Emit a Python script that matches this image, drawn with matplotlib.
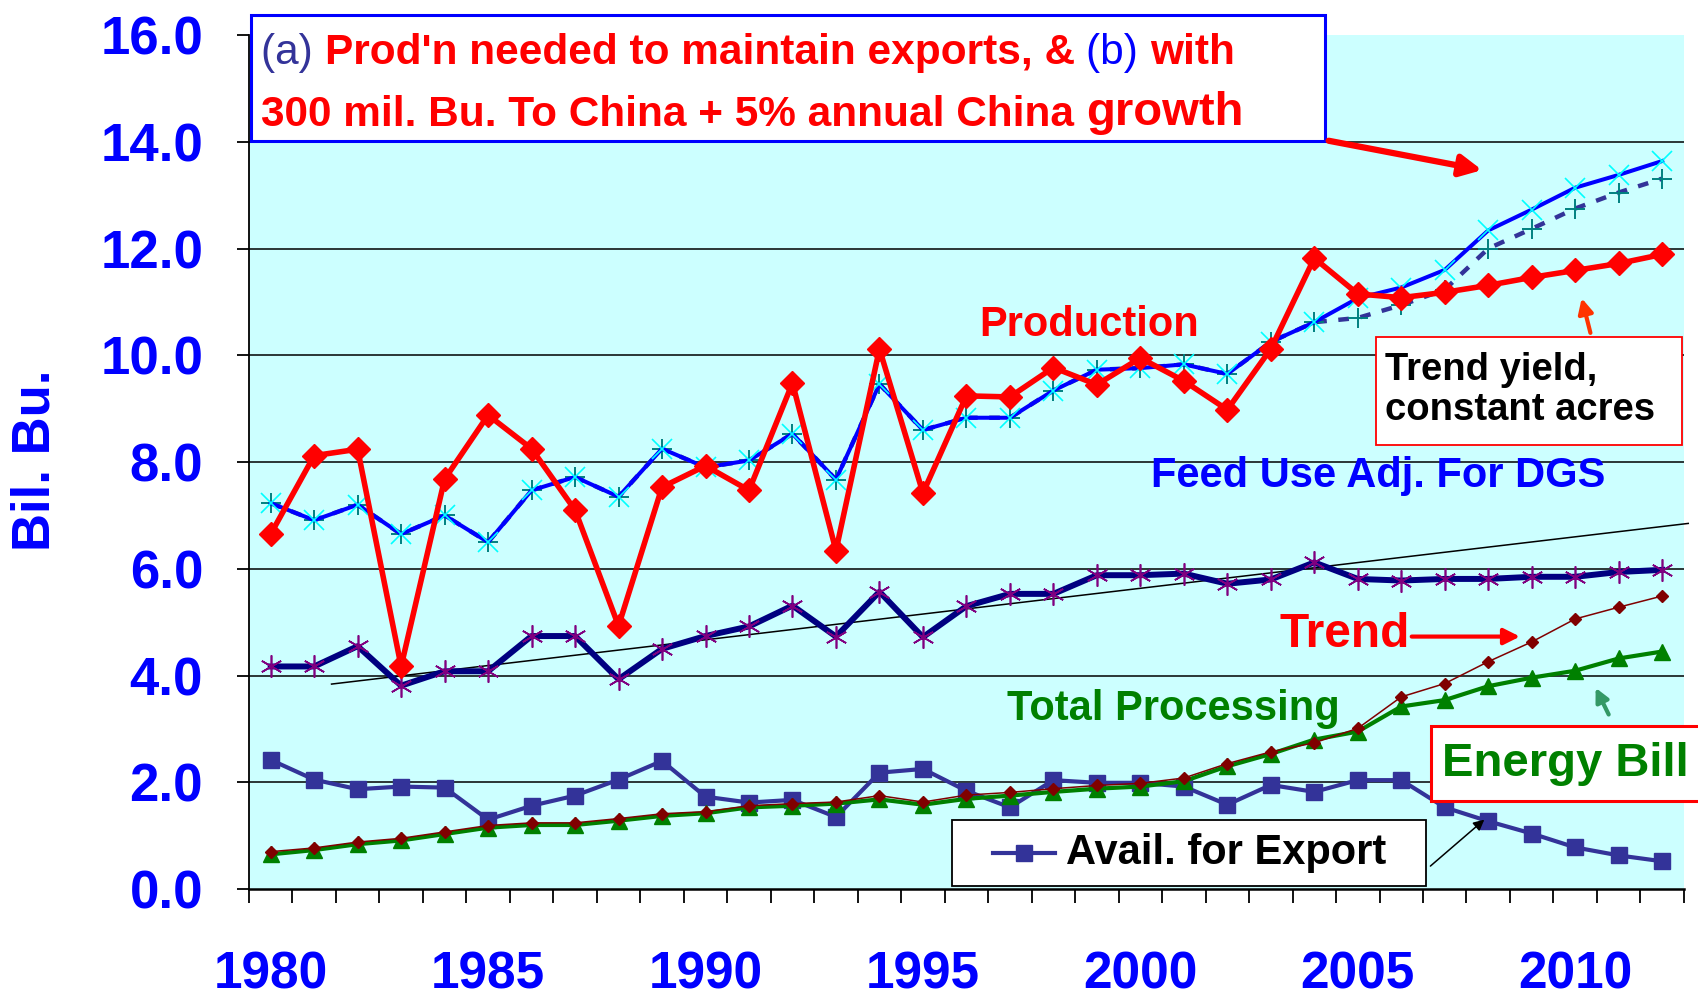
import numpy as np
import matplotlib
matplotlib.use("Agg")
import matplotlib.pyplot as plt
from matplotlib.patches import Rectangle

plt.rcParams["font.family"] = ["Liberation Sans", "DejaVu Sans"]
plt.rcParams["font.weight"] = "bold"

# ── data (bil. bu.) ───────────────────────────────────────────────────────────
years = np.arange(1980, 2013)

production = [6.65, 8.12, 8.24, 4.17, 7.68, 8.88, 8.25, 7.10, 4.93, 7.53,
              7.93, 7.47, 9.48, 6.34, 10.12, 7.42, 9.24, 9.22, 9.77, 9.45,
              9.95, 9.52, 8.98, 10.12, 11.82, 11.15, 11.08, 11.18, 11.31, 11.46,
              11.59, 11.72, 11.89]

# (b) production needed incl. 300 mil. bu. to China + 5% growth
need_china = [7.23, 6.91, 7.20, 6.65, 7.00, 6.50, 7.47, 7.72, 7.35, 8.25,
              7.90, 8.03, 8.53, 7.67, 9.46, 8.60, 8.83, 8.83, 9.34, 9.73,
              9.76, 9.83, 9.65, 10.25, 10.62, 11.07, 11.27, 11.60, 12.34, 12.73,
              13.14, 13.38, 13.64]

# (a) production needed to maintain exports
need_exports = [7.23, 6.91, 7.20, 6.65, 7.00, 6.50, 7.47, 7.72, 7.35, 8.25,
                7.90, 8.03, 8.53, 7.67, 9.46, 8.60, 8.83, 8.83, 9.34, 9.73,
                9.76, 9.83, 9.65, 10.25, 10.62, 10.70, 10.94, 11.23, 12.00, 12.37,
                12.75, 13.05, 13.31]

feed_use = [4.17, 4.17, 4.55, 3.81, 4.08, 4.08, 4.74, 4.74, 3.93, 4.50,
            4.74, 4.92, 5.31, 4.73, 5.57, 4.72, 5.30, 5.53, 5.53, 5.88,
            5.88, 5.91, 5.72, 5.80, 6.12, 5.81, 5.78, 5.81, 5.81, 5.85,
            5.85, 5.94, 5.98]

feed_trend_x = [1981.4, 2012.6]
feed_trend_y = [3.84, 6.85]

avail_export = [2.42, 2.05, 1.87, 1.92, 1.90, 1.30, 1.56, 1.75, 2.05, 2.40,
                1.73, 1.62, 1.67, 1.35, 2.18, 2.25, 1.84, 1.53, 2.04, 1.99,
                1.99, 1.92, 1.58, 1.95, 1.82, 2.04, 2.04, 1.53, 1.27, 1.04,
                0.78, 0.63, 0.52]

total_proc = [0.65, 0.73, 0.84, 0.91, 1.03, 1.15, 1.20, 1.20, 1.28, 1.37,
              1.42, 1.53, 1.56, 1.60, 1.68, 1.58, 1.69, 1.75, 1.82, 1.88,
              1.92, 2.02, 2.30, 2.53, 2.80, 2.95, 3.42, 3.54, 3.80, 3.96,
              4.09, 4.32, 4.45]

proc_trend = [0.70, 0.77, 0.88, 0.95, 1.07, 1.19, 1.24, 1.24, 1.32, 1.41,
              1.45, 1.56, 1.60, 1.63, 1.75, 1.63, 1.76, 1.81, 1.88, 1.94,
              1.98, 2.08, 2.35, 2.57, 2.74, 3.01, 3.60, 3.85, 4.26, 4.63,
              5.06, 5.28, 5.49]

year_labels = [1980, 1985, 1990, 1995, 2000, 2005, 2010]
y_ticks = [0, 2, 4, 6, 8, 10, 12, 14, 16]

BLUE = "#0000FF"
RED = "#FF0000"
NAVY = "#000080"
SLATE = "#333399"
GREEN = "#008000"

# ── figure ────────────────────────────────────────────────────────────────────
fig = plt.figure(figsize=(16.98, 9.96), dpi=100)
ax = fig.add_axes([0.1466, 0.1074, 0.8451, 0.8574])
ax.set_facecolor("#CCFFFF")
ax.set_xlim(1979.5, 2012.5)
ax.set_ylim(0, 16)

for v in y_ticks[1:-1]:
    ax.axhline(v, color="black", lw=1.1, zorder=1)

ax.plot(feed_trend_x, feed_trend_y, color="black", lw=1.1, zorder=2, clip_on=False)

ax.plot(years, feed_use, color=NAVY, lw=4.3, marker=(6, 2, 0), ms=16,
        mec="#800080", mew=1.2, zorder=3)
ax.plot(years, avail_export, color=SLATE, lw=3.0, marker="s", ms=12,
        mfc=SLATE, mec=SLATE, zorder=3)
ax.plot(years, total_proc, color=GREEN, lw=3.0, marker="^", ms=12,
        mfc=GREEN, mec=GREEN, zorder=4)
ax.plot(years, proc_trend, color="#800000", lw=1.1, marker="D", ms=6.5,
        mfc="#800000", mec="#800000", zorder=5)
ax.plot(years, need_exports, color=SLATE, lw=3.2, ls=(0, (2.4, 2.6)),
        marker="+", ms=15, mec="#008080", mew=1.4, zorder=5)
ax.plot(years, need_china, color=BLUE, lw=2.9, marker="x", ms=14,
        mec="#00FFFF", mew=1.2, zorder=6)
ax.plot(years, production, color=RED, lw=4.0, marker="D", ms=12.5,
        mfc=RED, mec=RED, zorder=7)

# ── axes styling ──────────────────────────────────────────────────────────────
for s in ("top", "right"):
    ax.spines[s].set_visible(False)
ax.spines["left"].set_linewidth(1.3)
ax.spines["bottom"].set_linewidth(1.8)

ax.set_yticks(y_ticks)
ax.set_yticklabels([f"{v:.1f}" for v in y_ticks])
ax.tick_params(axis="y", length=9, width=1.3, pad=24, labelsize=38,
               labelcolor=BLUE)
ax.set_xticks(year_labels)
ax.set_xticklabels([str(y) for y in year_labels])
ax.set_xticks(np.arange(1979.5, 2013, 1), minor=True)
ax.tick_params(axis="x", which="major", length=0, pad=44, labelsize=37,
               labelcolor=BLUE)
ax.tick_params(axis="x", which="minor", length=10, width=1.3)

fig.text(0.021, 0.538, "Bil. Bu.", rotation=90, ha="center", va="center",
         fontsize=38, color=BLUE)

# ── annotations ──────────────────────────────────────────────────────────────
ax.text(1998.83, 10.57, "Production", color=RED, fontsize=30,
        ha="center", va="center", zorder=8)
ax.text(2005.47, 7.73, "Feed Use Adj. For DGS", color=BLUE, fontsize=30,
        ha="center", va="center", zorder=8)
ax.text(2004.70, 4.77, "Trend", color=RED, fontsize=34.5,
        ha="center", va="center", zorder=8)
ax.text(2000.77, 3.37, "Total Processing", color=GREEN, fontsize=30,
        ha="center", va="center", zorder=8)

# top title box with multi-coloured text
ax.add_patch(Rectangle((1979.55, 14.02), 24.7, 2.35, fc="white", ec=BLUE,
                       lw=2.2, clip_on=False, zorder=9))


def colour_line(x, y, pieces):
    s, c, size, w = pieces[0]
    t = ax.text(x, y, s, color=c, fontsize=size, fontweight=w,
                va="bottom", ha="left", zorder=10)
    for s, c, size, w in pieces[1:]:
        t = ax.annotate(s, xy=(1, 0), xycoords=t, va="bottom", ha="left",
                        color=c, fontsize=size, fontweight=w, zorder=10)


colour_line(1979.78, 15.28, [
    ("(a) ", SLATE, 30.5, "normal"),
    ("Prod'n needed to maintain exports, & ", RED, 30.5, "bold"),
    ("(b) ", BLUE, 30.5, "normal"),
    ("with", RED, 30.5, "bold"),
])
colour_line(1979.78, 14.12, [
    ("300 mil. Bu. To China + 5% annual China ", RED, 30.5, "bold"),
    ("growth", RED, 34, "bold"),
])

ax.annotate("", xy=(2007.86, 13.47), xytext=(2004.33, 14.02),
            arrowprops=dict(arrowstyle="-|>", color=RED, lw=4.5,
                            mutation_scale=32, shrinkA=0, shrinkB=0),
            zorder=9, annotation_clip=False)

# trend yield box
ax.add_patch(Rectangle((2005.42, 8.32), 7.04, 2.02, fc="white", ec=RED,
                       lw=1.3, clip_on=False, zorder=9))
ax.text(2005.62, 9.35, "Trend yield,\nconstant acres", color="black",
        fontsize=27.5, ha="left", va="center", linespacing=1.15, zorder=10)
ax.annotate("", xy=(2010.15, 11.07), xytext=(2010.35, 10.42),
            arrowprops=dict(arrowstyle="-|>", color="#FF3300", lw=3,
                            mutation_scale=22, shrinkA=0, shrinkB=0),
            zorder=9)

ax.annotate("", xy=(2008.73, 4.73), xytext=(2006.24, 4.73),
            arrowprops=dict(arrowstyle="-|>", color=RED, lw=3,
                            mutation_scale=24, shrinkA=0, shrinkB=0),
            zorder=9)

# energy bill box
ax.add_patch(Rectangle((2006.69, 1.64), 6.6, 1.42, fc="white", ec=RED,
                       lw=2.2, clip_on=False, zorder=9))
ax.text(2006.94, 2.35, "Energy Bill", color=GREEN, fontsize=34,
        ha="left", va="center", zorder=10, clip_on=False)
ax.annotate("", xy=(2010.47, 3.77), xytext=(2010.77, 3.27),
            arrowprops=dict(arrowstyle="-|>", color="#339966", lw=3,
                            mutation_scale=20, shrinkA=0, shrinkB=0),
            zorder=9)

# avail. for export key
ax.add_patch(Rectangle((1995.67, 0.06), 10.9, 1.24, fc="white", ec="black",
                       lw=1.3, zorder=9))
ax.plot([1996.62, 1998.03], [0.67, 0.67], color=SLATE, lw=3.0, zorder=10)
ax.plot([1997.33], [0.67], color=SLATE, marker="s", ms=12, zorder=10)
ax.text(1998.28, 0.67, "Avail. for Export", color="black", fontsize=30,
        ha="left", va="center", zorder=10)
ax.annotate("", xy=(2007.91, 1.30), xytext=(2006.67, 0.43),
            arrowprops=dict(arrowstyle="-|>", color="black", lw=1.1,
                            mutation_scale=16, shrinkA=0, shrinkB=0),
            zorder=9)

fig.savefig("out.png", dpi=100)
